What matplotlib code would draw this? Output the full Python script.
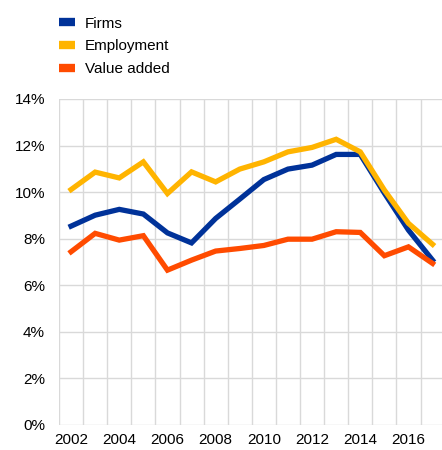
import matplotlib
matplotlib.use('Agg')
from matplotlib import pyplot as plt
from matplotlib.lines import Line2D
import matplotlib.ticker as ticker

years = list(range(2002, 2018))
firms = [8.54, 9.01, 9.26, 9.06, 8.25, 7.82, 8.87, 9.70, 10.54, 10.99, 11.16, 11.62, 11.62, 9.96, 8.37, 7.08]
employment = [10.11, 10.86, 10.61, 11.30, 9.94, 10.87, 10.44, 10.99, 11.30, 11.73, 11.92, 12.27, 11.73, 10.09, 8.66, 7.76]
value_added = [7.44, 8.23, 7.94, 8.13, 6.65, 7.08, 7.47, 7.58, 7.71, 7.98, 7.98, 8.30, 8.27, 7.27, 7.65, 6.94]

labels = ['Firms', 'Employment', 'Value added']
colors = ['#003299', '#ffb400', '#ff4b00']

plt.rcParams['font.family'] = ['Liberation Sans', 'DejaVu Sans']
plt.rcParams['font.size'] = 11

fig = plt.figure(figsize=(4.42, 4.5), dpi=100)
ax = fig.add_axes([59 / 442, 25 / 450, 383 / 442, 326 / 450])

for series, c in zip([firms, employment, value_added], colors):
    ax.plot(years, series, color=c, linewidth=3.8, solid_joinstyle='miter')

ax.set_xlim(2001.5, 2001.5 + 383 / 24.1)
ax.set_ylim(0, 14)

ax.xaxis.set_major_locator(ticker.FixedLocator(years[::2]))
ax.xaxis.set_minor_locator(ticker.FixedLocator([y - 0.5 for y in years] + [2017.5]))
ax.yaxis.set_major_locator(ticker.MultipleLocator(2))
ax.yaxis.set_major_formatter(ticker.FuncFormatter(lambda v, p: f'{v:.0f}%'))

ax.grid(True, which='minor', axis='x', color='#d9d9d9', linewidth=1)
ax.grid(True, which='major', axis='y', color='#d9d9d9', linewidth=1)
ax.set_axisbelow(True)
for s in ax.spines.values():
    s.set_visible(False)
ax.tick_params(which='both', length=0, labelsize=11, colors='#000000')
ax.tick_params(axis='x', pad=6)
ax.tick_params(axis='y', pad=10)

handles = [Line2D([], [], color=c, linewidth=6, solid_capstyle='butt') for c in colors]
fig.legend(handles, labels, loc='upper left', bbox_to_anchor=(59 / 442, 1 - 16.5 / 450),
           frameon=False, borderpad=0, borderaxespad=0, handlelength=1.05,
           handletextpad=0.65, labelspacing=0.57, fontsize=11)

plt.savefig('out.png', dpi=100)
